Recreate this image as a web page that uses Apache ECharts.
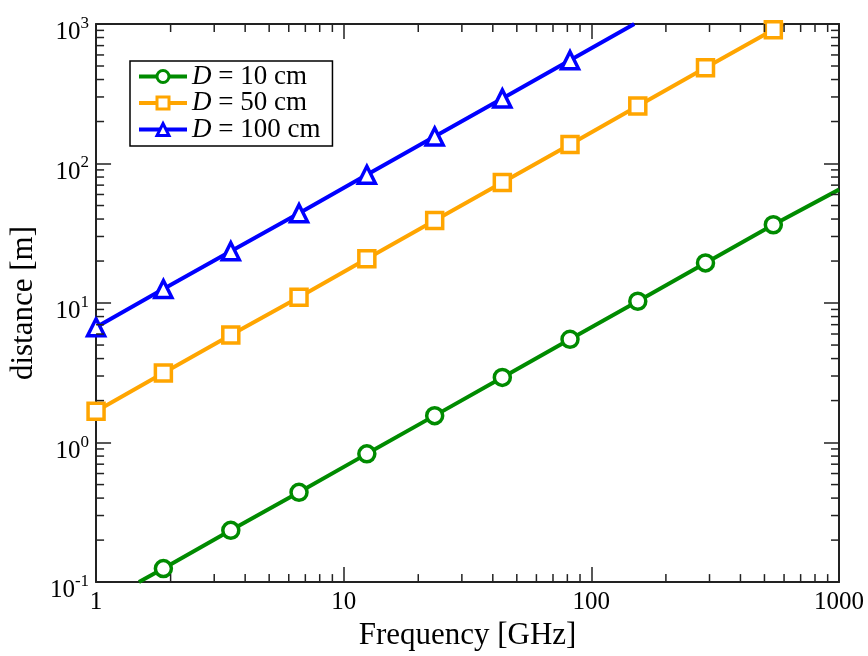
<!DOCTYPE html>
<html>
<head>
<meta charset="utf-8">
<script src="https://cdn.jsdelivr.net/npm/echarts@6/dist/echarts.min.js"></script>
<style>html,body{margin:0;padding:0;background:#fff}#c{width:868px;height:656px}</style>
</head>
<body>
<div id="c"></div>
<script>
// ---- data ----
const seriesNames = ['D = 10 cm', 'D = 50 cm', 'D = 100 cm'];
// marker frequencies (GHz)
const freqGreen  = [1.87, 3.5, 6.6, 12.4, 23.3, 43.7, 82, 154, 289, 543];
const distGreen  = [0.125, 0.235, 0.44, 0.83, 1.56, 2.93, 5.5, 10.3, 19.4, 36.4];
const freqOrange = [1, 1.87, 3.5, 6.6, 12.4, 23.3, 43.7, 82, 154, 289, 543];
const distOrange = [1.68, 3.15, 5.9, 11.0, 20.8, 39, 73, 137, 258, 485, 910];
const freqBlue   = [1, 1.87, 3.5, 6.6, 12.4, 23.3, 43.7, 82];
const distBlue   = [6.7, 12.6, 23.5, 44, 83, 156, 293, 550];
// line end points (where the curves leave the frame)
const greenStart = [1.49, 0.1],  greenEnd = [1000, 65];
const orangeEnd  = [599, 1000];
const blueEnd    = [149, 1000];
// axis tick values
const xMinorTicks = [2,3,4,5,6,7,8,9,20,30,40,50,60,70,80,90,200,300,400,500,600,700,800,900];
const yMinorTicks = [0.2,0.3,0.4,0.5,0.6,0.7,0.8,0.9,2,3,4,5,6,7,8,9,20,30,40,50,60,70,80,90,200,300,400,500,600,700,800,900];

const FONT = 'Liberation Serif';
const AX = '#222';

function build(freqs, dists, start, end) {
  const d = [];
  if (start) d.push({ value: start, symbol: 'none' });
  freqs.forEach((f, i) => d.push([f, dists[i]]));
  if (end) d.push({ value: end, symbol: 'none' });
  return d;
}

function curve(name, color, symbol, size, data) {
  return {
    name, type: 'line', data, symbol, symbolSize: size, showAllSymbol: true,
    lineStyle: { color, width: 4 },
    itemStyle: { color: '#ffffff', borderColor: color, borderWidth: 3.5 },
    emphasis: { disabled: true }, animation: false, z: 3, clip: true
  };
}

function minorTicks(vals, dir) {
  return {
    type: 'custom', silent: true, animation: false, z: 5, clip: false,
    data: vals.map(v => dir === 'x' ? [v, 1] : [1, v]),
    renderItem: function (params, api) {
      const cs = params.coordSys;
      const L = 8;
      if (dir === 'x') {
        const x = api.coord([api.value(0), 1])[0];
        return { type: 'group', children: [
          { type: 'line', shape: { x1: x, y1: cs.y + cs.height, x2: x, y2: cs.y + cs.height - L }, style: { stroke: AX, lineWidth: 1.5 } },
          { type: 'line', shape: { x1: x, y1: cs.y, x2: x, y2: cs.y + L }, style: { stroke: AX, lineWidth: 1.5 } }
        ]};
      } else {
        const y = api.coord([1, api.value(1)])[1];
        return { type: 'group', children: [
          { type: 'line', shape: { x1: cs.x, y1: y, x2: cs.x + L, y2: y }, style: { stroke: AX, lineWidth: 1.5 } },
          { type: 'line', shape: { x1: cs.x + cs.width, y1: y, x2: cs.x + cs.width - L, y2: y }, style: { stroke: AX, lineWidth: 1.5 } }
        ]};
      }
    }
  };
}

const chart = echarts.init(document.getElementById('c'), null, { renderer: 'canvas' });
const axisCommon = {
  type: 'log', logBase: 10,
  axisLine: { show: true, lineStyle: { color: AX, width: 2 } },
  axisTick: { show: true, inside: true, length: 15, lineStyle: { color: AX, width: 1.5 } },
  splitLine: { show: false }
};
chart.setOption({
  animation: false,
  backgroundColor: '#fff',
  grid: { left: 94, right: 29, top: 24, bottom: 73, containLabel: false },
  legend: {
    orient: 'vertical', left: 130, top: 61,
    data: seriesNames,
    itemWidth: 48, itemHeight: 15, itemGap: -0.5,
    padding: [2, 12, 3, 7],
    borderColor: '#000', borderWidth: 1.5, borderRadius: 0,
    backgroundColor: '#fff',
    selectedMode: false,
    lineStyle: { width: 4 },
    itemStyle: { borderWidth: 3 },
    formatter: n => '{i|D}' + n.slice(1),
    textStyle: {
      fontFamily: FONT, fontSize: 27, color: '#000', lineHeight: 23, padding: [0, 0, 0, 0],
      rich: { i: { fontFamily: FONT, fontSize: 27, fontStyle: 'italic', color: '#000', lineHeight: 23 } }
    }
  },
  xAxis: [
    Object.assign({}, axisCommon, {
      min: 1, max: 1000, position: 'bottom',
      name: 'Frequency [GHz]', nameLocation: 'middle', nameGap: 36,
      nameTextStyle: { fontFamily: FONT, fontSize: 31, color: '#000' },
      axisLabel: { fontFamily: FONT, fontSize: 25, color: '#000', margin: 8, showMinLabel: true, showMaxLabel: true,
        formatter: v => String(Math.round(v)) }
    }),
    Object.assign({}, axisCommon, {
      min: 1, max: 1000, position: 'top', axisLabel: { show: false }
    })
  ],
  yAxis: [
    Object.assign({}, axisCommon, {
      min: 0.1, max: 1000, position: 'left',
      name: 'distance [m]', nameLocation: 'middle', nameGap: 54, nameRotate: 90,
      nameTextStyle: { fontFamily: FONT, fontSize: 31, color: '#000' },
      axisLabel: {
        margin: 7, showMinLabel: true, showMaxLabel: true, fontSize: 25, fontFamily: FONT, color: '#000',
        padding: [12, 0, 0, 0],
        formatter: v => '{b|10}{s|' + Math.round(Math.log10(v)) + '}',
        rich: {
          b: { fontFamily: FONT, fontSize: 25, color: '#000', verticalAlign: 'bottom', lineHeight: 30 },
          s: { fontFamily: FONT, fontSize: 17, color: '#000', verticalAlign: 'top', lineHeight: 30 }
        }
      }
    }),
    Object.assign({}, axisCommon, {
      min: 0.1, max: 1000, position: 'right', axisLabel: { show: false }
    })
  ],
  series: [
    curve(seriesNames[0], '#008b00', 'circle', 16, build(freqGreen, distGreen, greenStart, greenEnd)),
    curve(seriesNames[1], '#ffa500', 'rect', 16, build(freqOrange, distOrange, null, orangeEnd)),
    curve(seriesNames[2], '#0000ff', 'triangle', 17, build(freqBlue, distBlue, null, blueEnd)),
    minorTicks(xMinorTicks, 'x'),
    minorTicks(yMinorTicks, 'y')
  ]
});
</script>
</body>
</html>
